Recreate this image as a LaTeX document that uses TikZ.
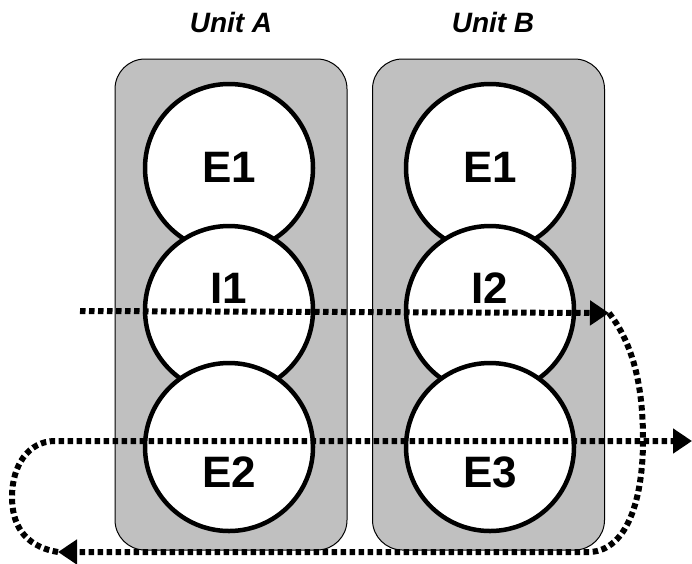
\documentclass[tikz,border=0pt]{standalone}
\usepackage{fontspec}
\setmainfont{Liberation Sans}
\usetikzlibrary{arrows.meta}
\definecolor{boxgray}{RGB}{192,192,192}
\tikzset{
  unitbox/.style={draw=black, line width=1pt, fill=boxgray, rounded corners=30pt, minimum width=232pt, minimum height=491pt, inner sep=0pt},
  circ/.style={circle, draw=black, line width=4.5pt, fill=white, minimum size=168pt, inner sep=0pt},
  lbl/.style={font=\bfseries\fontsize{44}{50}\selectfont, inner sep=0pt},
  unitlbl/.style={font=\bfseries\itshape\fontsize{28}{32}\selectfont, inner sep=0pt},
  flow/.style={line width=6pt, dash pattern=on 5.5pt off 3.5pt},
  tip/.style={-{Triangle[length=19pt,width=24pt]}}
}
\begin{document}
\begin{tikzpicture}[x=1pt,y=-1pt]
\useasboundingbox (0,0) rectangle (692,563);
% unit boxes
\node[unitbox] (boxA) at (231,304.5) {};
\node[unitbox] (boxB) at (488.5,304.5) {};
\node[unitlbl] (uA) at (231,22) {Unit A};
\node[unitlbl] (uB) at (493,22) {Unit B};
% circles unit A
\node[circ] (A1) at (229,168) {};
\node[circ] (A2) at (229,310) {};
\node[circ] (A3) at (229,447) {};
% circles unit B
\node[circ] (B1) at (490,168) {};
\node[circ] (B2) at (490,310) {};
\node[circ] (B3) at (490,447) {};
% labels
\node[lbl] (tA1) at (229,167) {E1};
\node[lbl] (tA2) at (229,288) {I1};
\node[lbl] (tA3) at (229,472) {E2};
\node[lbl] (tB1) at (490,167) {E1};
\node[lbl] (tB2) at (490,288) {I2};
\node[lbl] (tB3) at (490,472) {E3};
% flow coordinates
\coordinate (s1) at (80,311);
\coordinate (t1) at (609,313);
\coordinate (br) at (590,552);
\coordinate (t2) at (58,552);
\coordinate (l2) at (55,441);
\coordinate (t3) at (692,441);
% flow lines
\draw[flow, tip] (s1) -- (t1);
\draw[flow, tip] (t1) .. controls (638,350) and (643,400) .. (643,440)
   .. controls (643,500) and (627,550) .. (br) -- (t2);
\draw[flow, tip] (t2) .. controls (22,546) and (12,522) .. (12,497)
   .. controls (12,466) and (28,441) .. (l2) -- (t3);
\end{tikzpicture}
\end{document}
